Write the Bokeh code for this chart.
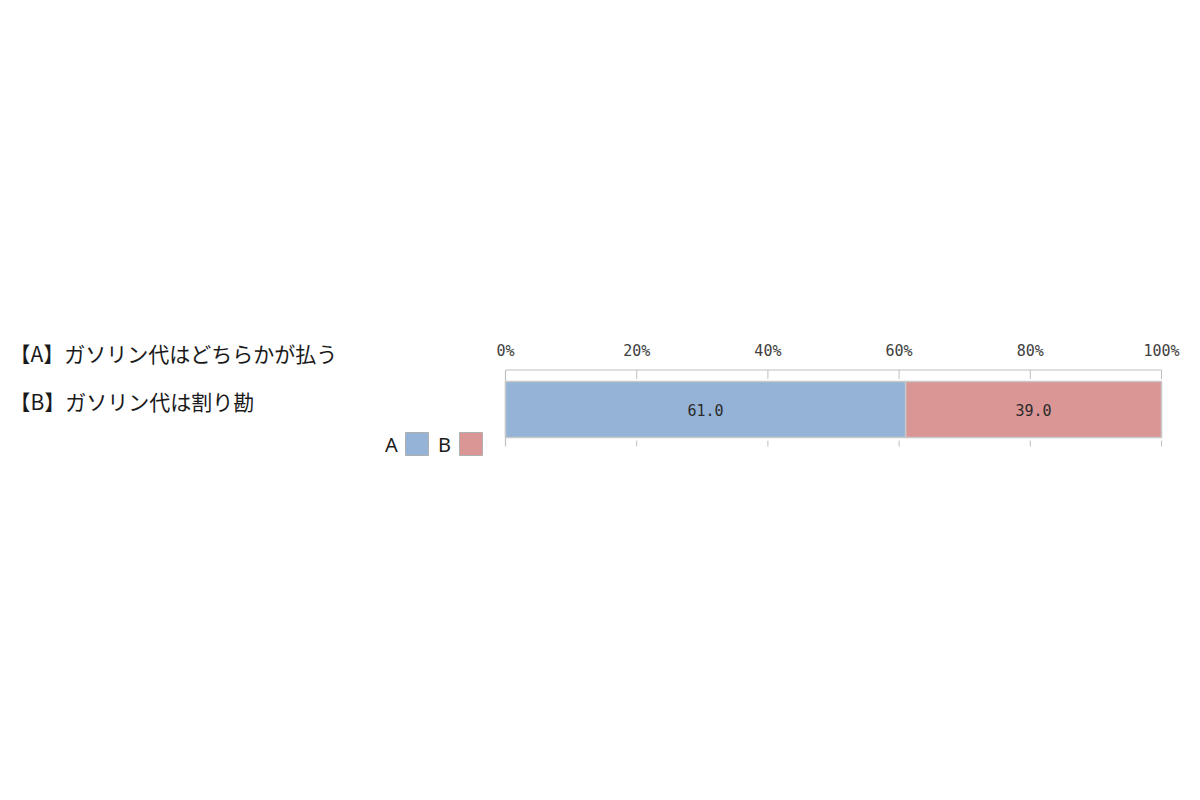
import numpy as np
from bokeh.plotting import figure
from bokeh.models import Range1d, ColumnDataSource
from bokeh.core.properties import value
from bokeh.embed import file_html
from bokeh.resources import INLINE

# ---- data ----
categories = ["A", "B"]
statements = ["【A】ガソリン代はどちらかが払う", "【B】ガソリン代は割り勘"]
values = [61.0, 39.0]
colors = ["#95B3D7", "#D99694"]
tick_values = [0, 20, 40, 60, 80, 100]
tick_labels = ["0%", "20%", "40%", "60%", "80%", "100%"]

GRAY = "#BFBFBF"
JP = value("Noto Sans CJK JP")
MONO = value("DejaVu Sans Mono")

W, H = 1192, 792
X0, X100 = 505, 1161            # pixel positions of 0 % and 100 %
PX = (X100 - X0) / 100.0        # pixels per percent


def px(xpix):
    """pixel column -> percent scale"""
    return (xpix - X0) / PX


# frame covers the whole canvas; y runs downward in pixels
p = figure(width=W, height=H, x_range=Range1d(px(0), px(W)), y_range=Range1d(H, 0),
           x_axis_type=None, y_axis_type=None, output_backend="svg",
           toolbar_location=None, min_border=0)
p.grid.visible = False
p.outline_line_color = None

AX_TOP, AX_BOT = 369.5, 440
BAR_Y, BAR_H = 409, 56

# axis frame: top line, left line, ticks
p.segment(x0=[0], y0=[AX_TOP], x1=[100], y1=[AX_TOP], line_color=GRAY, line_width=1.2)
p.segment(x0=[0], y0=[AX_TOP], x1=[0], y1=[AX_BOT + 5], line_color=GRAY, line_width=1.2)
p.segment(x0=tick_values, y0=[AX_TOP] * len(tick_values), x1=tick_values,
          y1=[AX_TOP + 9] * len(tick_values), line_color=GRAY, line_width=1)
p.segment(x0=tick_values, y0=[AX_BOT] * len(tick_values), x1=tick_values,
          y1=[AX_BOT + 6] * len(tick_values), line_color=GRAY, line_width=1)
p.text(x=tick_values, y=[350] * len(tick_values), text=tick_labels, text_font=MONO,
       text_font_size="15px", text_color="#404040",
       text_align="center", text_baseline="middle")

# stacked bar
vals = np.array(values)
rights = np.cumsum(vals)
lefts = rights - vals
bar_src = ColumnDataSource(dict(left=lefts, right=rights, y=[BAR_Y] * len(values),
                                col=colors, mid=(lefts + rights) / 2,
                                lab=[f"{v:.1f}" for v in values]))
p.hbar(y="y", left="left", right="right", height=BAR_H, source=bar_src,
       fill_color="col", line_color="#C8C8C8", line_width=1.5)
p.text(x="mid", y="y", text="lab", source=bar_src, text_font=MONO,
       text_font_size="15px", text_color="#2b2b2b",
       text_align="center", text_baseline="middle")

# statements on the left
p.text(x=[px(9)] * 2, y=[352, 400], text=statements, text_font=JP,
       text_font_size="21px", text_color="#1a1a1a",
       text_baseline="middle", text_align="left")

# legend: letter then coloured square
leg_src = ColumnDataSource(dict(tx=[px(391), px(444)], sx=[px(416.5), px(470.5)],
                                y=[443.5, 443.5], lab=categories, col=colors))
p.text(x="tx", y="y", text="lab", source=leg_src, text_font=value("Noto Sans"),
       text_font_size="20px", text_color="#1a1a1a",
       text_baseline="middle", text_align="center")
p.rect(x="sx", y="y", width=23, height=23, width_units="screen",
       height_units="screen", source=leg_src,
       fill_color="col", line_color="#B0B0B0", line_width=1)

open("out.html", "w").write(file_html(p, INLINE))
